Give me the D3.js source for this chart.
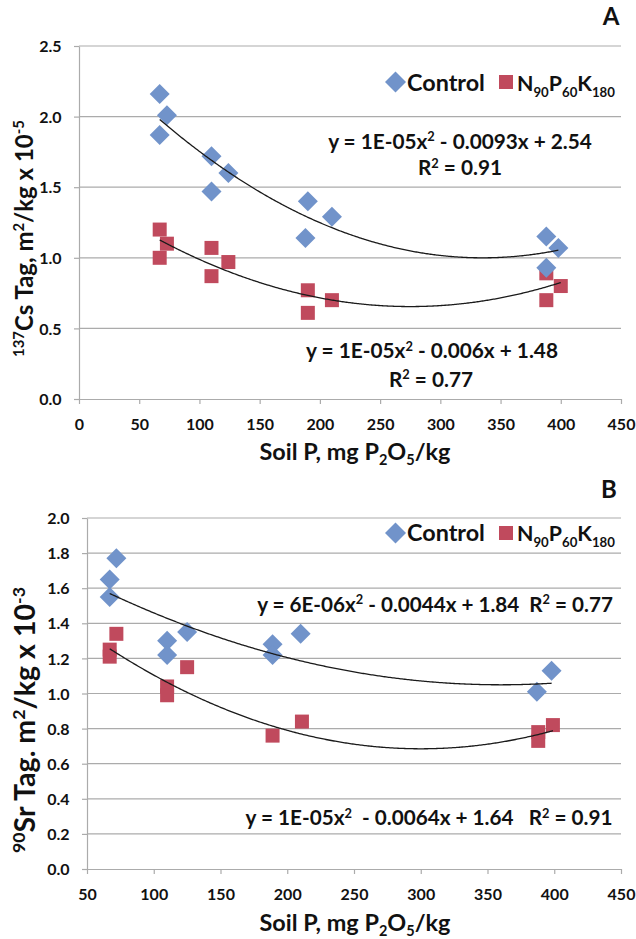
<!DOCTYPE html>
<html><head><meta charset="utf-8">
<script src="https://cdn.jsdelivr.net/npm/d3@7"></script>
<style>
html,body{margin:0;padding:0;background:#fff;}
svg{display:block;font-family:Lato,"Open Sans",sans-serif;font-weight:700;}
</style>
</head><body>
<svg id="c" width="636" height="939"></svg>
<script>
// ---------- DATA ----------
// Panel A: 137Cs
const csXTicks = [0, 50, 100, 150, 200, 250, 300, 350, 400, 450];
const csYTicks = [0, 0.5, 1.0, 1.5, 2.0, 2.5];
const csControlX = [67, 73, 67, 110, 110, 124, 188, 190, 210, 388, 398, 388];
const csControlY = [2.16, 2.01, 1.87, 1.72, 1.47, 1.60, 1.14, 1.40, 1.29, 1.15, 1.07, 0.93];
const csNpkX = [67, 73, 67, 110, 110, 124, 190, 190, 210, 388, 388, 400];
const csNpkY = [1.20, 1.10, 1.00, 1.07, 0.87, 0.97, 0.77, 0.61, 0.70, 0.89, 0.70, 0.80];
const csControlTrend = [1.364e-5, -0.00914, 2.531];   // a, b, c
const csNpkTrend = [1.09e-5, -0.005995, 1.479];

// Panel B: 90Sr
const srXTicks = [50, 100, 150, 200, 250, 300, 350, 400, 450];
const srYTicks = [0, 0.2, 0.4, 0.6, 0.8, 1.0, 1.2, 1.4, 1.6, 1.8, 2.0];
const srControlX = [67, 67, 72, 110, 110, 125, 189, 189, 210, 387, 398];
const srControlY = [1.65, 1.55, 1.77, 1.30, 1.22, 1.35, 1.28, 1.22, 1.34, 1.01, 1.13];
const srNpkX = [67, 67, 72, 110, 110, 125, 189, 211, 388, 388, 399];
const srNpkY = [1.25, 1.21, 1.34, 1.04, 0.99, 1.15, 0.76, 0.84, 0.78, 0.73, 0.82];
const srControlTrend = [6.06e-6, -0.004363, 1.835];
const srNpkTrend = [1.05e-5, -0.0063, 1.63];

const seriesNames = ["Control", "NPK"];

// ---------- STYLE ----------
const BLUE = "#7193CA", RED = "#C04A5D", GRID = "#ABABAB", INK = "#111";
const svg = d3.select("#c");

function rich(parent, parts, opt) {
  const t = parent.append("text")
    .attr("x", opt.x).attr("y", opt.y)
    .attr("text-anchor", opt.anchor || "middle")
    .attr("font-size", opt.size)
    .attr("fill", INK)
    .style("white-space", "pre");
  if (opt.rotate) t.attr("transform", `rotate(-90 ${opt.x} ${opt.y})`);
  let shift = 0;
  parts.forEach(p => {
    const [s, k] = Array.isArray(p) ? p : [p, ""];
    const target = k === "sup" ? -0.36 : k === "sub" ? (opt.subShift ?? 0.25) : 0;
    const sc = k ? 0.62 : 1;
    const ts = t.append("tspan").attr("font-size", sc + "em");
    const d = (target - shift) / sc;
    if (d !== 0) ts.attr("dy", d + "em");
    ts.text(s);
    shift = target;
  });
  if (opt.width) {
    const w = t.node().getComputedTextLength();
    t.attr("font-size", opt.size * opt.width / w);
  }
  return t;
}

function trendPts(coef, lo, hi) {
  const xs = d3.range(lo, hi, 1).concat([hi]);
  return xs.map(v => [v, coef[0] * v * v + coef[1] * v + coef[2]]);
}

function panel(cfg) {
  const g = svg.append("g");
  const x = d3.scaleLinear().domain(cfg.xDomain).range(cfg.xRange);
  const y = d3.scaleLinear().domain(cfg.yDomain).range(cfg.yRange);
  const [x0, x1] = cfg.xRange;

  // gridlines
  g.append("g").selectAll("line").data(cfg.yTicks.filter(v => v > 0)).join("line")
    .attr("x1", x0).attr("x2", x1)
    .attr("y1", d => y(d)).attr("y2", d => y(d))
    .attr("stroke", GRID).attr("stroke-width", 1.2);

  // axes
  const ya = g.append("g").attr("transform", `translate(${x0},0)`)
    .call(d3.axisLeft(y).tickValues(cfg.yTicks).tickFormat(d3.format(".1f")).tickSize(5).tickSizeOuter(0));
  const xa = g.append("g").attr("transform", `translate(0,${cfg.yRange[0]})`)
    .call(d3.axisBottom(x).tickValues(cfg.xTicks).tickFormat(d3.format("d")).tickSize(5).tickSizeOuter(0));
  [ya, xa].forEach(a => {
    a.select(".domain").attr("stroke", GRID).attr("stroke-width", 1.2);
    a.selectAll(".tick line").attr("stroke", GRID).attr("stroke-width", 1.2);
    a.selectAll("text").attr("fill", INK).attr("font-size", 16)
      .attr("font-family", "Lato, 'Open Sans', sans-serif").attr("font-weight", 700);
  });
  ya.selectAll("text").attr("x", -17.5).attr("dy", "0.35em");
  xa.selectAll("text").attr("y", 31).attr("dy", 0);

  // markers: NPK squares then Control diamonds
  const sq = d3.symbol().type(d3.symbolSquare).size(196);
  const dm = d3.symbol().type(d3.symbolSquare).size(200);
  g.append("g").selectAll("path").data(d3.zip(cfg.npkX, cfg.npkY)).join("path")
    .attr("d", sq).attr("fill", RED)
    .attr("transform", d => `translate(${x(d[0])},${y(d[1])})`);
  g.append("g").selectAll("path").data(d3.zip(cfg.ctrlX, cfg.ctrlY)).join("path")
    .attr("d", dm).attr("fill", BLUE)
    .attr("transform", d => `translate(${x(d[0])},${y(d[1])}) rotate(45)`);

  // trendlines
  const line = d3.line().x(d => x(d[0])).y(d => y(d[1])).curve(d3.curveLinear);
  [[cfg.ctrlTrend, cfg.ctrlX], [cfg.npkTrend, cfg.npkX]].forEach(([coef, xs]) => {
    g.append("path").datum(trendPts(coef, d3.min(xs), d3.max(xs)))
      .attr("d", line).attr("fill", "none").attr("stroke", "#1a1a1a").attr("stroke-width", 1.3);
  });

  // legend
  const L = cfg.legend;
  g.append("path").attr("d", d3.symbol().type(d3.symbolSquare).size(220)())
    .attr("fill", BLUE).attr("transform", `translate(395.5,${L.cy}) rotate(45)`);
  g.append("path").attr("d", d3.symbol().type(d3.symbolSquare).size(196)())
    .attr("fill", RED).attr("transform", `translate(506,${L.cy})`);
  const lt = rich(g, [seriesNames[0]], {x: 407, y: L.base, anchor: "start", size: 22, width: 78});
  rich(g, ["N", ["90", "sub"], "P", ["60", "sub"], "K", ["180", "sub"]],
    {x: 517, y: L.base, anchor: "start", size: 22, width: 98, subShift: 0.3});

  // equations
  cfg.eqs.forEach(e => {
    const t = rich(g, e.parts, {x: e.x, y: e.y, size: 19, width: e.width});
    if (e.r) rich(g, e.r.parts, {x: e.r.x, y: e.r.y, size: +t.attr("font-size")});
  });

  // titles
  rich(g, ["Soil P, mg P", ["2", "sub"], "O", ["5", "sub"], "/kg"],
    {x: 355, y: cfg.xTitleY, size: 21, width: 191, subShift: 0.22});
  rich(g, cfg.yTitle, {x: cfg.yTitleX, y: cfg.yTitleY, size: 21, width: cfg.yTitleW, rotate: true});
  g.append("text").attr("x", cfg.letter.x).attr("y", cfg.letter.y).attr("text-anchor", "middle")
    .attr("font-size", 24).attr("fill", INK).text(cfg.letter.t);
}

panel({
  xDomain: [0, 450], xRange: [79, 621], yDomain: [0, 2.5], yRange: [399, 46],
  xTicks: csXTicks, yTicks: csYTicks,
  ctrlX: csControlX, ctrlY: csControlY, npkX: csNpkX, npkY: csNpkY,
  ctrlTrend: csControlTrend, npkTrend: csNpkTrend,
  legend: {cy: 82, base: 90.5},
  eqs: [
    {parts: ["y = 1E-05x", ["2", "sup"], " - 0.0093x + 2.54"], x: 460, y: 148.5, width: 264,
     r: {parts: ["R", ["2", "sup"], " = 0.91"], x: 460, y: 175}},
    {parts: ["y = 1E-05x", ["2", "sup"], " - 0.006x + 1.48"], x: 432, y: 358, width: 252,
     r: {parts: ["R", ["2", "sup"], " = 0.77"], x: 431, y: 386.5}}
  ],
  xTitleY: 460,
  yTitle: [["137", "sup"], "Cs Tag, m", ["2", "sup"], "/kg x 10", ["-5", "sup"]],
  yTitleX: 33, yTitleY: 238.5, yTitleW: 237,
  letter: {t: "A", x: 611, y: 25}
});

panel({
  xDomain: [50, 450], xRange: [87, 621], yDomain: [0, 2.0], yRange: [869, 518],
  xTicks: srXTicks, yTicks: srYTicks,
  ctrlX: srControlX, ctrlY: srControlY, npkX: srNpkX, npkY: srNpkY,
  ctrlTrend: srControlTrend, npkTrend: srNpkTrend,
  legend: {cy: 533, base: 540.7},
  eqs: [
    {parts: ["y = 6E-06x", ["2", "sup"], " - 0.0044x + 1.84  R", ["2", "sup"], " = 0.77"], x: 435, y: 611.5, width: 356},
    {parts: ["y = 1E-05x", ["2", "sup"], "  - 0.0064x + 1.64   R", ["2", "sup"], " = 0.91"], x: 429, y: 825, width: 367}
  ],
  xTitleY: 931,
  yTitle: [["90", "sup"], "Sr Tag. m", ["2", "sup"], "/kg x 10", ["-3", "sup"]],
  yTitleX: 35, yTitleY: 720, yTitleW: 266,
  letter: {t: "B", x: 609, y: 498}
});
</script>
</body></html>
